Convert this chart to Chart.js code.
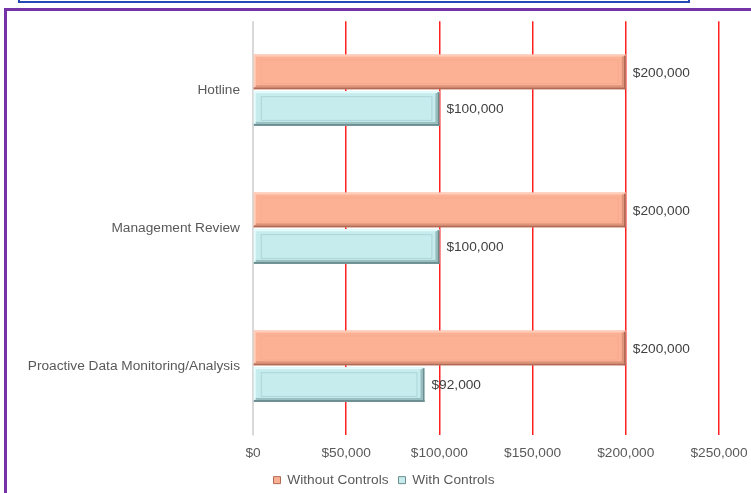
<!DOCTYPE html>
<html>
<head>
<meta charset="utf-8">
<script src="https://cdn.jsdelivr.net/npm/chart.js@4.4.0/dist/chart.umd.min.js"></script>
<style>
  html, body { margin: 0; padding: 0; background: #fff; overflow: hidden; }
  #wrap { position: relative; width: 751px; height: 493px; }
  #chart { position: absolute; left: 0; top: 0; }
  .titleBox { position: absolute; left: 18px; top: -20px; width: 668px; height: 19px; border: 2px solid #2548b4; }
  .frame { position: absolute; left: 4px; top: 8px; width: 800px; height: 520px; border: 3px solid #7434a8; pointer-events: none; }
</style>
</head>
<body>
<div id="wrap">
  <canvas id="chart" width="751" height="497"></canvas>
  <div class="titleBox"></div>
  <div class="frame"></div>
</div>
<script>
// Chart data
const categories = ['Hotline', 'Management Review', 'Proactive Data Monitoring/Analysis'];
const withoutControls = [200000, 200000, 200000];
const withControls = [100000, 100000, 92000];
const axisMax = 250000;
const axisStep = 50000;

const FONT = "'Liberation Sans', Arial, sans-serif";
const FONT_SIZE = 13.7;

// Format currency like $200,000
function formatMoney(v) {
    return '$' + Math.round(v).toLocaleString('en-US');
}

// Draws the bevelled look on each bar
const bevelPlugin = {
    id: 'bevel',
    afterDatasetsDraw(chart) {
        const ctx = chart.ctx;
        chart.data.datasets.forEach((ds, i) => {
            const meta = chart.getDatasetMeta(i);
            const b = ds.bevel;
            meta.data.forEach(el => {
                const p = el.getProps(['x', 'y', 'base', 'height'], true);
                const left = Math.min(p.base, p.x);
                const right = Math.max(p.base, p.x);
                const top = p.y - p.height / 2;
                const bottom = p.y + p.height / 2;
                const w = right - left;
                const h = bottom - top;
                ctx.save();
                // inner panel outline
                ctx.strokeStyle = b.inner;
                ctx.lineWidth = 1;
                ctx.strokeRect(left + 7.5, top + 5.5, w - 15, h - 11);
                // highlights
                ctx.fillStyle = b.light;
                ctx.fillRect(left, top, w, 2);
                ctx.fillRect(left, top, 2, h);
                // shadows
                ctx.fillStyle = b.dark;
                ctx.fillRect(left, bottom - 2, w, 2);
                ctx.fillRect(right - 2, top + 1, 2, h - 1);
                ctx.fillStyle = b.mid;
                ctx.fillRect(left + 2, bottom - 4, w - 4, 2);
                ctx.fillRect(right - 4, top + 2, 2, h - 5);
                ctx.restore();
            });
        });
    }
};

// Value labels at the end of each bar
const valueLabels = {
    id: 'valueLabels',
    afterDatasetsDraw(chart) {
        const ctx = chart.ctx;
        ctx.save();
        ctx.font = FONT_SIZE + 'px ' + FONT;
        ctx.fillStyle = '#404040';
        ctx.textAlign = 'left';
        ctx.textBaseline = 'middle';
        chart.data.datasets.forEach((ds, i) => {
            chart.getDatasetMeta(i).data.forEach((el, j) => {
                ctx.fillText(formatMoney(ds.data[j]), el.x + 7, el.y + 1);
            });
        });
        ctx.restore();
    }
};

// Legend sits centred under the plot, not under the whole canvas
const legendShift = {
    id: 'legendShift',
    afterLayout(chart) {
        if (chart.legend) chart.legend.left = 49;
    }
};

new Chart(document.getElementById('chart'), {
    type: 'bar',
    data: {
        labels: categories,
        datasets: [
            {
                label: 'Without Controls',
                data: withoutControls,
                backgroundColor: '#fcb194',
                borderWidth: 0,
                bevel: { light: '#ffcdb9', dark: '#b06a56', mid: '#dc937a', inner: '#f7aa8e' }
            },
            {
                label: 'With Controls',
                data: withControls,
                backgroundColor: '#c6ecee',
                borderWidth: 0,
                bevel: { light: '#e6fbfc', dark: '#6c8e90', mid: '#98bec0', inner: '#acd5d7' }
            }
        ]
    },
    options: {
        indexAxis: 'y',
        responsive: false,
        animation: false,
        devicePixelRatio: 1,
        categoryPercentage: 0.53,
        barPercentage: 0.95,
        layout: { padding: { left: 0, top: 21, right: 32, bottom: 0 } },
        scales: {
            x: {
                min: 0,
                max: axisMax,
                afterFit: s => {
                    s.height = 28;
                    s.paddingLeft = 0;
                    s.paddingRight = 0;
                },
                ticks: {
                    stepSize: axisStep,
                    padding: 10,
                    color: '#595959',
                    font: { family: FONT, size: FONT_SIZE },
                    maxRotation: 0,
                    callback: v => formatMoney(v)
                },
                grid: {
                    drawTicks: false,
                    lineWidth: 1.5,
                    color: c => c.index === 0 ? '#d9d9d9' : '#ff2020'
                },
                border: { display: false }
            },
            y: {
                afterFit: s => { s.width = 253; },
                ticks: {
                    padding: 13,
                    color: '#595959',
                    font: { family: FONT, size: FONT_SIZE }
                },
                grid: { display: false, drawTicks: false },
                border: { display: true, color: '#d9d9d9' }
            }
        },
        plugins: {
            legend: {
                position: 'bottom',
                labels: {
                    boxWidth: 7,
                    boxHeight: 7,
                    padding: 10,
                    color: '#595959',
                    font: { family: FONT, size: FONT_SIZE },
                    generateLabels: chart => chart.data.datasets.map((ds, i) => ({
                        text: ds.label,
                        fillStyle: ds.backgroundColor,
                        strokeStyle: ds.bevel.dark,
                        lineWidth: 1,
                        datasetIndex: i,
                        fontColor: '#595959'
                    }))
                }
            },
            tooltip: { enabled: false }
        }
    },
    plugins: [bevelPlugin, valueLabels, legendShift]
});
</script>
</body>
</html>
